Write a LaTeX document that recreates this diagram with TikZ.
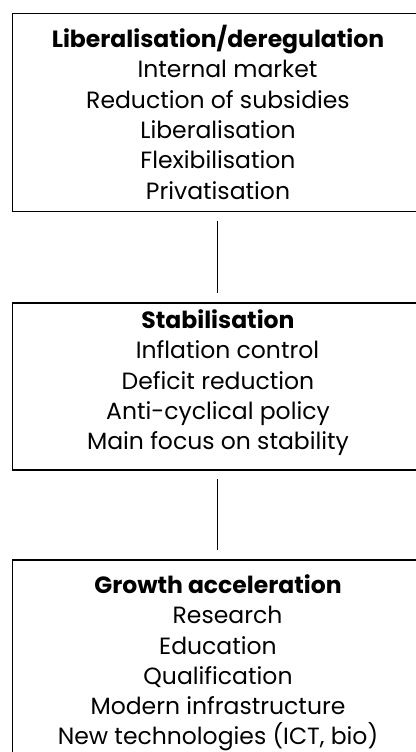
\documentclass[tikz,border=0pt]{standalone}
\usepackage{fontspec}
\setmainfont{Poppins}
\newcommand{\lead}{\hspace*{19pt}}
\begin{document}
\begin{tikzpicture}[x=1pt,y=-1pt,
  boxstyle/.style={draw=black,line width=1.5pt,rectangle,inner sep=0pt,anchor=north west},
  txtstyle/.style={align=center,inner sep=0pt,anchor=north,font=\fontsize{23.5}{30.3}\selectfont},
  linkstyle/.style={draw=black,line width=1pt,shorten <=8.5pt,shorten >=9pt}]
\useasboundingbox (0,0) rectangle (415,752);
\node[boxstyle,minimum width=413pt,minimum height=198pt] (b1) at (11.5,12.7) {};
\node[boxstyle,minimum width=413pt,minimum height=167pt] (b2) at (11.5,302) {};
\node[boxstyle,minimum width=413pt,minimum height=220pt] (b3) at (11.5,559) {};
\node[txtstyle] (t1) at (218,25) {\textbf{Liberalisation/deregulation}\\\lead Internal market\\Reduction of subsidies\\Liberalisation\\Flexibilisation\\Privatisation};
\node[txtstyle] (t2) at (218,309.4) {\textbf{Stabilisation}\\\lead Inflation control\\Deficit reduction\\Anti-cyclical policy\\Main focus on stability};
\node[txtstyle] (t3) at (218,574.4) {\textbf{Growth acceleration}\\\lead Research\\Education\\Qualification\\Modern infrastructure\\New technologies (ICT, bio)};
\draw[linkstyle] ([xshift=-1pt]b1.south) -- ([xshift=-1pt]b2.north);
\draw[linkstyle] ([xshift=-1pt]b2.south) -- ([xshift=-1pt]b3.north);
\end{tikzpicture}
\end{document}
